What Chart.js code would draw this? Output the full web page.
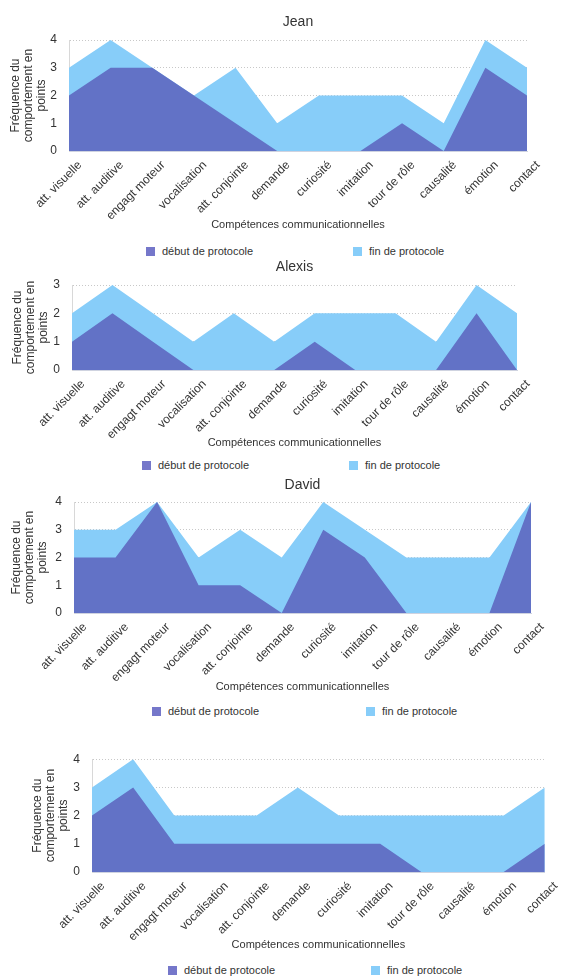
<!DOCTYPE html>
<html><head><meta charset="utf-8">
<script src="https://cdn.jsdelivr.net/npm/chart.js@4.4.0/dist/chart.umd.min.js"></script>
<style>
body{margin:0;width:562px;height:976px;position:relative;background:#fff;overflow:hidden;font-family:"Liberation Sans",Arial,sans-serif;}
.box{position:absolute;left:0;width:562px;}
.leg{position:absolute;font-size:11px;color:#333;white-space:nowrap;line-height:12px;}
.sw{position:absolute;width:9px;height:9px;}
</style></head><body>
<script>
// ---- data ----
const categories = ['att. visuelle','att. auditive','engagt moteur','vocalisation','att. conjointe','demande','curiosité','imitation','tour de rôle','causalité','émotion','contact'];
const seriesNames = ['début de protocole','fin de protocole'];
const xAxisTitle = 'Compétences communicationnelles';
const yAxisTitle = ['Fréquence du','comportement en','points'];

const chartTitles = ['Jean','Alexis','David',''];

const jeanDebut   = [2,3,3,2,1,0,0,0,1,0,3,2];
const jeanFin     = [3,4,3,2,3,1,2,2,2,1,4,3];
const alexisDebut = [1,2,1,0,0,0,1,0,0,0,2,0];
const alexisFin   = [2,3,2,1,2,1,2,2,2,1,3,2];
const davidDebut  = [2,2,4,1,1,0,3,2,0,0,0,4];
const davidFin    = [3,3,4,2,3,2,4,3,2,2,2,4];
const c4Debut     = [2,3,1,1,1,1,1,1,0,0,0,1];
const c4Fin       = [3,4,2,2,2,3,2,2,2,2,2,3];

const yTicksJean   = [0,1,2,3,4];
const yTicksAlexis = [0,1,2,3];
const yTicksDavid  = [0,1,2,3,4];
const yTicksC4     = [0,1,2,3,4];

// ---- layout (positions only) ----
const layouts = [
  {T:0,   H:240, titleY:22,  top:40,  bottom:151, left:69, right:527, xTitleY:225, legY:251, legA:146, legB:353, yTitlePad:9},
  {T:255, H:200, titleY:267, top:285, bottom:370, left:72, right:517, xTitleY:443, legY:465, legA:142, legB:349, yTitlePad:11},
  {T:474, H:225, titleY:485, top:502, bottom:613, left:74, right:531, xTitleY:687, legY:711, legA:152, legB:366, yTitlePad:10},
  {T:740, H:220, titleY:null,top:759, bottom:872, left:92, right:548, xTitleY:945, legY:970, legA:168, legB:371, yTitlePad:31.5}
];
const seriesData = [[jeanDebut,jeanFin],[alexisDebut,alexisFin],[davidDebut,davidFin],[c4Debut,c4Fin]];
const yTicks = [yTicksJean,yTicksAlexis,yTicksDavid,yTicksC4];

const DARK = '#6272c6', LIGHT = '#87cdf9', LEGDARK = '#7577ca';
const FONT = '"Liberation Sans", Arial, sans-serif';
const TXT = '#333';

layouts.forEach((L, i) => {
  const div = document.createElement('div');
  div.className = 'box';
  div.style.top = L.T + 'px';
  div.style.height = L.H + 'px';
  const cv = document.createElement('canvas');
  div.appendChild(cv);
  document.body.appendChild(div);

  const tFont = 14, tLH = tFont * 1.2;
  const xFont = 11, xLH = 12.5;
  const hasTitle = !!chartTitles[i];
  const ticks = yTicks[i];
  const xH = L.T + L.H - L.bottom;
  const xPadB = L.T + L.H - L.xTitleY - xLH / 2;

  new Chart(cv, {
    type: 'line',
    data: {
      labels: categories,
      datasets: [
        {label: seriesNames[0], data: seriesData[i][0], backgroundColor: DARK, borderColor: DARK, borderWidth: 0, fill: 'origin', pointRadius: 0, tension: 0},
        {label: seriesNames[1], data: seriesData[i][1], backgroundColor: LIGHT, borderColor: LIGHT, borderWidth: 0, fill: 'origin', pointRadius: 0, tension: 0}
      ]
    },
    options: {
      responsive: true, maintainAspectRatio: false, animation: false,
      devicePixelRatio: 1,
      layout: {padding: {left: 0, right: 562 - L.right, top: hasTitle ? 0 : (L.top - L.T), bottom: 0}},
      plugins: {
        legend: {display: false},
        tooltip: {enabled: false},
        title: hasTitle ? {
          display: true, text: chartTitles[i], fullSize: false, color: TXT,
          font: {family: FONT, size: tFont, weight: 'normal', lineHeight: 1.2},
          padding: {top: L.titleY - L.T - tLH / 2, bottom: L.top - L.titleY - tLH / 2}
        } : {display: false}
      },
      scales: {
        x: {
          offset: false,
          grid: {display: false, drawTicks: false},
          border: {display: true, color: '#cfd3e0', width: 1},
          ticks: {autoSkip: false, minRotation: 45, maxRotation: 45, labelOffset: 11, padding: 7, color: TXT, font: {family: FONT, size: 12}},
          title: {display: true, text: xAxisTitle, color: TXT, font: {family: FONT, size: xFont, lineHeight: xLH / xFont}, padding: {top: 0, bottom: xPadB}},
          afterFit: s => { s.height = xH; }
        },
        y: {
          min: ticks[0], max: ticks[ticks.length - 1],
          afterBuildTicks: s => { s.ticks = ticks.map(v => ({value: v})); },
          grid: {display: true, color: '#c8c8c8', lineWidth: 1, drawTicks: false},
          border: {display: true, color: '#d8d8d8', dash: [1, 2]},
          ticks: {padding: 12, color: TXT, font: {family: FONT, size: 12}},
          title: {display: true, text: yAxisTitle, color: TXT, font: {family: FONT, size: 12, lineHeight: 13 / 12}, padding: {top: L.yTitlePad, bottom: 0}},
          afterFit: s => { s.width = L.left; }
        }
      }
    }
  });

  // HTML legend
  [[L.legA, LEGDARK, seriesNames[0]], [L.legB, LIGHT, seriesNames[1]]].forEach(([x, col, name]) => {
    const sw = document.createElement('div');
    sw.className = 'sw';
    sw.style.left = x + 'px'; sw.style.top = (L.legY - 4.5) + 'px'; sw.style.background = col;
    document.body.appendChild(sw);
    const t = document.createElement('div');
    t.className = 'leg';
    t.style.left = (x + 16) + 'px'; t.style.top = (L.legY - 6.5) + 'px';
    t.textContent = name;
    document.body.appendChild(t);
  });
});
</script>
</body></html>
